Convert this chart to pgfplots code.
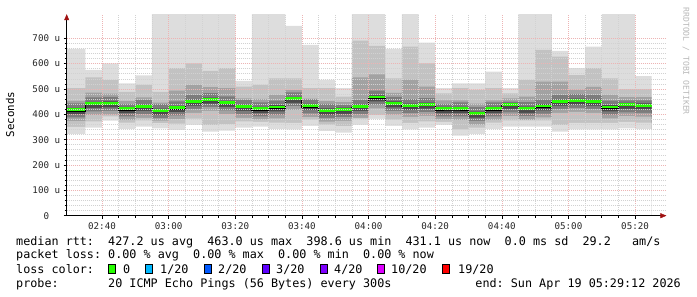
\documentclass[border=0pt]{standalone}
\usepackage{pgfplots}
\pgfplotsset{compat=1.18}
\usepackage{pgfplotstable}
\usepackage{fontspec}
\setmainfont{DejaVu Sans Mono}
\newfontfamily\mono{DejaVu Sans Mono}
\usetikzlibrary{arrows.meta}
\frenchspacing

\definecolor{sA}{HTML}{DDDDDD}
\definecolor{sB}{HTML}{C2C2C2}
\definecolor{sC}{HTML}{A2A2A2}
\definecolor{sD}{HTML}{7C7C7C}
\definecolor{sE}{HTML}{4A4A4A}
\definecolor{loss0}{HTML}{26FF00}
\definecolor{loss1}{HTML}{00B8FF}
\definecolor{loss2}{HTML}{0059FF}
\definecolor{loss3}{HTML}{5E00FF}
\definecolor{loss4}{HTML}{7E00FF}
\definecolor{loss10}{HTML}{DD00FF}
\definecolor{loss19}{HTML}{FF0000}
\definecolor{mgrid}{HTML}{EDB4B4}
\definecolor{ngrid}{HTML}{D2D2D2}
\definecolor{arrowred}{HTML}{A01010}

% x = minutes after 00:00 (start of each 5-minute bar)
\pgfplotstableread{
x     min lo2 lo3 lo4 lo5 med hi5 hi4 hi3 hi2 max
149.4 322 350 373 388 401 413 425 443 453 503 658
155   347 372 397 412 425 437 449 467 486 546 575
160   375 392 399 414 427 439 451 469 482 535 601
165   342 367 377 392 405 417 429 440 452 489 522
170   351 376 386 401 414 426 438 456 467 516 554
175   345 365 375 385 398 410 422 440 446 489 795
180   338 363 381 396 409 421 433 451 493 582 795
185   358 383 406 421 434 446 458 476 516 601 795
190   332 357 414 429 442 454 466 484 507 571 795
195   336 361 401 416 429 441 453 471 503 582 795
200   347 372 386 401 414 426 438 456 463 509 532
205   351 370 380 392 405 417 429 447 461 516 795
210   342 367 384 399 412 424 436 454 477 542 795
215   341 366 417 432 445 457 469 487 495 542 749
220   354 379 389 404 417 429 441 459 462 503 674
225   334 359 371 386 399 411 423 441 452 503 536
230   328 353 374 389 402 414 426 436 448 470 503
235   358 383 386 401 414 426 438 456 546 691 795
240   382 397 423 438 451 463 475 493 558 670 795
245   354 379 399 414 427 439 451 469 485 542 658
250   341 366 390 405 418 430 442 460 537 667 795
255   347 372 394 409 422 434 446 464 509 601 683
260   358 370 380 392 405 417 429 440 455 483 503
265   316 341 377 392 405 417 429 447 455 503 522
270   322 347 359 374 387 399 411 429 442 496 522
275   342 367 377 392 405 417 429 447 455 503 568
280   351 376 393 408 421 433 445 450 463 483 503
285   351 376 378 393 406 418 430 448 470 535 795
290   351 376 388 403 416 428 440 458 529 654 795
295   332 357 406 421 434 446 458 476 529 628 650
300   341 366 410 425 438 450 462 480 497 555 582
305   341 366 406 421 434 446 458 476 508 582 667
310   341 366 384 399 412 424 436 454 477 542 795
315   345 370 393 408 421 433 445 455 468 499 795
320   342 367 391 406 419 431 443 455 468 499 551
325   342 367 391 406 419 431 443 455 468 499 551
}\smoke

\begin{document}
\frenchspacing
\begin{tikzpicture}
\useasboundingbox (0pt,0pt) rectangle (697pt,297pt);
\begin{axis}[
  at={(66.7pt,81.3pt)}, anchor=south west,
  scale only axis, width=599.7pt, height=201.5pt,
  xmin=149.4, xmax=329.4, ymin=0, ymax=795,
  axis on top,
  axis x line=bottom, axis y line=left,
  x axis line style={-{Triangle[length=6pt,width=5pt,color=arrowred]}},
  y axis line style={-{Triangle[length=6pt,width=5pt,color=arrowred]}},
  xtick={160,180,...,320},
  xticklabels={02:40,03:00,03:20,03:40,04:00,04:20,04:40,05:00,05:20},
  minor x tick num=3,
  ytick={0,100,...,700},
  yticklabels={0\hphantom{0u},100 u,200 u,300 u,400 u,500 u,600 u,700 u},
  minor y tick num=4,
  grid=both,
  major grid style={mgrid, line width=0.6pt, dash pattern=on 1pt off 1pt},
  minor grid style={ngrid, line width=0.6pt, dash pattern=on 1pt off 1pt},
  tick align=outside,
  major tick length=3pt, minor tick length=2pt,
  tick style={black, line width=0.6pt},
  tick label style={font=\mono\fontsize{9.2}{10}\selectfont, text=black!85},
]
\addplot[const plot mark left, draw=none, fill=sA] table[x=x,y=max]{\smoke} \closedcycle;
\addplot[const plot mark left, draw=none, fill=sB] table[x=x,y=hi2]{\smoke} \closedcycle;
\addplot[const plot mark left, draw=none, fill=sC] table[x=x,y=hi3]{\smoke} \closedcycle;
\addplot[const plot mark left, draw=none, fill=sD] table[x=x,y=hi4]{\smoke} \closedcycle;
\addplot[const plot mark left, draw=none, fill=sE] table[x=x,y=hi5]{\smoke} \closedcycle;
\addplot[const plot mark left, draw=none, fill=sD] table[x=x,y=lo5]{\smoke} \closedcycle;
\addplot[const plot mark left, draw=none, fill=sC] table[x=x,y=lo4]{\smoke} \closedcycle;
\addplot[const plot mark left, draw=none, fill=sB] table[x=x,y=lo3]{\smoke} \closedcycle;
\addplot[const plot mark left, draw=none, fill=sA] table[x=x,y=lo2]{\smoke} \closedcycle;
\addplot[const plot mark left, draw=none, fill=white] table[x=x,y=min]{\smoke} \closedcycle;
\addplot[const plot mark left, black, line width=0.9pt] table[x=x,y=med]{\smoke};
\addplot[jump mark left, loss0, line width=2.8pt] table[x=x,y expr=\thisrow{med}+5]{\smoke};
\end{axis}

\node[rotate=90, font=\mono\fontsize{10.8}{12}\selectfont] at (10pt,182.5pt) {Seconds};
\node[rotate=-90, anchor=west, font=\mono\fontsize{8.1}{9}\selectfont, text=black!28] at (686pt,293pt) {RRDTOOL / TOBI OETIKER};

\begin{scope}[every node/.style={anchor=base west, inner sep=0pt, font=\mono\fontsize{11.76}{14}\selectfont}]
\node at (16pt,51.3pt) {median~rtt:~~427.2~us~avg~~463.0~us~max~~398.6~us~min~~431.1~us~now~~0.0~ms~sd~~29.2~~~am/s};
\node at (16pt,38pt) {packet~loss:~0.00~\%~avg~~0.00~\%~max~~0.00~\%~min~~0.00~\%~now};
\node at (16pt,23.7pt) {loss~color:};
\node at (123pt,23.7pt) {0};
\node at (160pt,23.7pt) {1/20};
\node at (218pt,23.7pt) {2/20};
\node at (276pt,23.7pt) {3/20};
\node at (334pt,23.7pt) {4/20};
\node at (391pt,23.7pt) {10/20};
\node at (458pt,23.7pt) {19/20};
\node at (16pt,9.7pt) {probe:~~~~~~~20~ICMP~Echo~Pings~(56~Bytes)~every~300s};
\node[anchor=base east] at (681pt,9.7pt) {end:~Sun~Apr~19~05:29:12~2026};
\end{scope}
\begin{scope}[line width=0.8pt]
\filldraw[fill=loss0, draw=black] (108.4pt,23.2pt) rectangle (115.6pt,32.2pt);
\filldraw[fill=loss1, draw=black] (145.4pt,23.2pt) rectangle (152.6pt,32.2pt);
\filldraw[fill=loss2, draw=black] (203.9pt,23.2pt) rectangle (211.1pt,32.2pt);
\filldraw[fill=loss3, draw=black] (262.4pt,23.2pt) rectangle (269.6pt,32.2pt);
\filldraw[fill=loss4, draw=black] (320.4pt,23.2pt) rectangle (327.6pt,32.2pt);
\filldraw[fill=loss10, draw=black] (377.4pt,23.2pt) rectangle (384.6pt,32.2pt);
\filldraw[fill=loss19, draw=black] (442.4pt,23.2pt) rectangle (449.6pt,32.2pt);
\end{scope}
\end{tikzpicture}
\end{document}
